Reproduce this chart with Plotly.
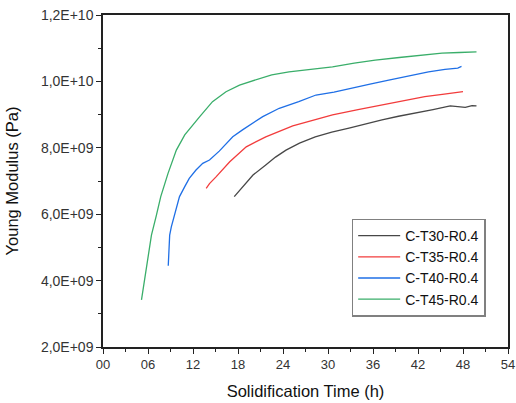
import plotly.graph_objs as go

# Young modulus curves (time in h, modulus in units of 1E9 Pa)
t30_time = [17.5, 18.6, 20.0, 21.7, 23.0, 24.4, 26.2, 28.3, 30.5, 32.8, 35.0, 37.2, 39.4, 41.6, 44.0, 46.3, 47.2, 48.3, 49.2, 49.8]
t30_mod = [6.53, 6.83, 7.18, 7.48, 7.72, 7.93, 8.14, 8.33, 8.47, 8.59, 8.72, 8.84, 8.95, 9.04, 9.15, 9.26, 9.25, 9.22, 9.27, 9.26]

t35_time = [13.76, 14.2, 15.1, 16.9, 19.1, 21.7, 25.3, 28.0, 30.6, 34.0, 37.2, 40.0, 42.9, 45.5, 48.0]
t35_mod = [6.78, 6.92, 7.13, 7.58, 8.03, 8.33, 8.66, 8.84, 8.99, 9.15, 9.29, 9.42, 9.54, 9.62, 9.69]

t40_time = [8.7, 8.8, 8.89, 9.11, 9.42, 9.78, 10.2, 10.9, 11.5, 12.4, 13.3, 14.2, 15.5, 17.3, 18.6, 21.3, 23.5, 26.1, 28.4, 30.8, 33.2, 35.6, 38.1, 40.8, 43.4, 45.6, 47.3, 47.8]
t40_mod = [4.45, 5.02, 5.37, 5.62, 5.88, 6.23, 6.53, 6.83, 7.08, 7.33, 7.53, 7.63, 7.90, 8.33, 8.54, 8.94, 9.19, 9.39, 9.59, 9.68, 9.79, 9.92, 10.04, 10.17, 10.29, 10.36, 10.40, 10.45]

t45_time = [5.13, 5.8, 6.46, 7.1, 7.7, 8.67, 9.33, 9.78, 10.9, 12.0, 12.9, 14.6, 16.4, 18.2, 20.8, 22.5, 24.8, 27.5, 30.6, 33.5, 36.3, 39.5, 42.5, 45.2, 47.5, 49.8]
t45_mod = [3.42, 4.40, 5.37, 5.95, 6.53, 7.23, 7.63, 7.93, 8.39, 8.70, 8.94, 9.39, 9.69, 9.89, 10.09, 10.20, 10.29, 10.37, 10.44, 10.55, 10.64, 10.72, 10.79, 10.85, 10.87, 10.89]

series_names = ["C-T30-R0.4", "C-T35-R0.4", "C-T40-R0.4", "C-T45-R0.4"]
series_colors = ["#474747", "#f23c3c", "#1f6fe6", "#3aae6a"]

x_tickvals = [0, 6, 12, 18, 24, 30, 36, 42, 48, 54]
x_ticktext = ["00", "06", "12", "18", "24", "30", "36", "42", "48", "54"]
y_tickvals = [2e9, 4e9, 6e9, 8e9, 1e10, 1.2e10]
y_ticktext = ["2,0E+09", "4,0E+09", "6,0E+09", "8,0E+09", "1,0E+10", "1,2E+10"]

font = dict(family="Liberation Sans, Arial", size=14, color="#222222")

fig = go.Figure(
    layout=dict(
        width=516,
        height=403,
        margin=dict(l=103, r=8, t=15, b=56, pad=0),
        plot_bgcolor="white",
        paper_bgcolor="white",
        font=font,
    )
)

for times, mods, name, color in zip(
    [t30_time, t35_time, t40_time, t45_time],
    [t30_mod, t35_mod, t40_mod, t45_mod],
    series_names,
    series_colors,
):
    fig.add_trace(
        go.Scatter(
            x=times,
            y=[m * 1e9 for m in mods],
            mode="lines",
            line=dict(color=color, width=1.3),
            name=name,
        )
    )

axis_common = dict(
    automargin=False,
    ticklabeloverflow="allow",
    showgrid=False,
    zeroline=False,
    showline=True,
    linecolor="#222222",
    linewidth=1.5,
    mirror=True,
    ticks="outside",
    ticklen=5,
    tickwidth=1.2,
    tickcolor="#222222",
)

fig.update_layout(
    xaxis=dict(
        axis_common,
        range=[0, 54],
        tickvals=x_tickvals,
        ticktext=x_ticktext,
        tickfont=dict(size=13, color="#333333"),
        minor=dict(ticks="outside", ticklen=3, tickcolor="#222222", dtick=3, tick0=0),
        title=dict(text="Solidification Time (h)", font=dict(size=16.5, color="#111111"), standoff=14),
    ),
    yaxis=dict(
        axis_common,
        range=[2e9, 1.2e10],
        tickvals=y_tickvals,
        ticktext=y_ticktext,
        tickfont=dict(size=14, color="#333333"),
        minor=dict(ticks="outside", ticklen=3, tickcolor="#222222", dtick=1e9, tick0=0),
        title=dict(text="Young Modulus (Pa)", font=dict(size=16.5, color="#111111"), standoff=18),
    ),
    legend=dict(
        x=0.614,
        y=0.387,
        xanchor="left",
        yanchor="top",
        bgcolor="white",
        bordercolor="#808080",
        borderwidth=1.5,
        font=dict(size=14, color="#111111"),
        itemwidth=42,
        tracegroupgap=0,
    ),
)

# drop the default 8px body margin so the figure sits at the window's corner
fig.write_html(
    "out.html",
    config={"displayModeBar": False},
    post_script="document.body.style.margin = '0px';",
)
